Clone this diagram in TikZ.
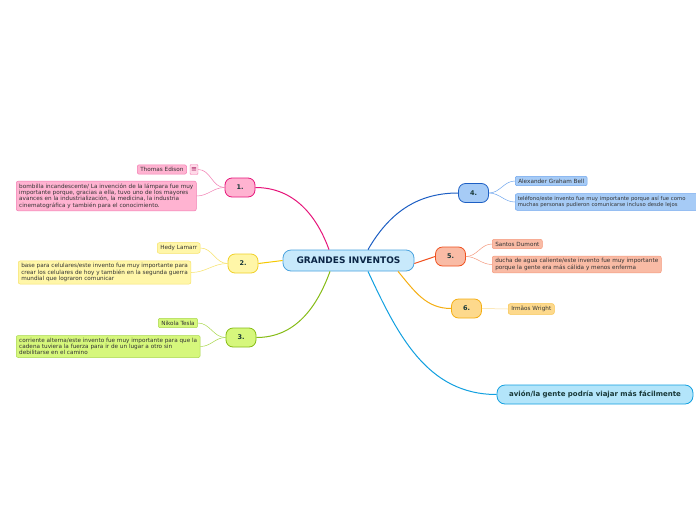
\documentclass[tikz,border=0pt]{standalone}
\usepackage{fontspec}
\setmainfont{DejaVu Sans}
\usepackage{tikz}
\usetikzlibrary{positioning}

\definecolor{mainfill}{HTML}{C8E9FB}
\definecolor{maindraw}{HTML}{4AA3DF}
\definecolor{pinkfill}{HTML}{FFB3D1}
\definecolor{pinkdraw}{HTML}{E6157A}
\definecolor{pinkleaf}{HTML}{F27DB2}
\definecolor{yelfill}{HTML}{FFF6A8}
\definecolor{yeldraw}{HTML}{F0D028}
\definecolor{yelline}{HTML}{F5C800}
\definecolor{yelleaf}{HTML}{F7E36A}
\definecolor{grnfill}{HTML}{D6F77C}
\definecolor{grndraw}{HTML}{86BC16}
\definecolor{grnleaf}{HTML}{A9D84C}
\definecolor{bluefill}{HTML}{A6CBF6}
\definecolor{bluedraw}{HTML}{1D5FC4}
\definecolor{blueleaf}{HTML}{6FA6EE}
\definecolor{salfill}{HTML}{F9BBA5}
\definecolor{saldraw}{HTML}{F0501E}
\definecolor{salleaf}{HTML}{F59A7E}
\definecolor{orfill}{HTML}{FDD98C}
\definecolor{ordraw}{HTML}{F5AE12}
\definecolor{orleaf}{HTML}{F7C44E}
\definecolor{avfill}{HTML}{B3E5FA}
\definecolor{avdraw}{HTML}{12A0E0}
\definecolor{titletext}{HTML}{0B2545}
\definecolor{numtext}{HTML}{183838}
\definecolor{leaftext}{HTML}{333333}

\begin{document}
\begin{tikzpicture}[x=1pt,y=-1pt,
  topic/.style={draw,line width=0.8pt,rounded corners=7pt,minimum width=30pt,minimum height=19pt,
    inner sep=0pt,font=\fontsize{6.5}{7}\selectfont\bfseries,text=numtext},
  leaf/.style={draw,line width=0.5pt,rounded corners=2pt,anchor=west,align=left,inner xsep=3pt,
    inner ysep=2.5pt,font=\fontsize{5.7}{6.3}\selectfont,text=leaftext},
  branch/.style={line width=1pt},
  twig/.style={line width=0.5pt}]
  \useasboundingbox (0,0) rectangle (696,520);
  \fill[white] (0,0) rectangle (696,520);

  % centre
  \node[draw=maindraw,fill=mainfill,line width=0.8pt,rounded corners=8pt,minimum width=131pt,
    minimum height=21pt,inner sep=0pt,font=\fontsize{9}{9}\selectfont\bfseries,text=titletext]
    (main) at (348.5,260.5) {GRANDES INVENTOS};

  % topics
  \node[topic,draw=pinkdraw,fill=pinkfill] (t1) at (240,187.5) {1.};
  \node[topic,draw=yeldraw,fill=yelfill] (t2) at (243,263.5) {2.};
  \node[topic,draw=grndraw,fill=grnfill] (t3) at (241,337.5) {3.};
  \node[topic,draw=bluedraw,fill=bluefill] (t4) at (473.5,193) {4.};
  \node[topic,draw=saldraw,fill=salfill] (t5) at (450.5,256.5) {5.};
  \node[topic,draw=ordraw,fill=orfill] (t6) at (466.5,308.5) {6.};
  \node[topic,draw=avdraw,fill=avfill,minimum width=196pt,rounded corners=8pt,
    font=\fontsize{7}{7}\selectfont\bfseries] (avion) at (595,394.5)
    {avión/la gente podría viajar más fácilmente};

  % leaves, left side
  \node[leaf,draw=pinkleaf,fill=pinkfill] (edison) at (137,169.5) {Thomas Edison};
  \node[draw=pinkleaf,fill=pinkfill!50,line width=0.4pt,rounded corners=1pt,inner sep=0pt,
    minimum width=8pt,minimum height=10pt,font=\fontsize{7}{7}\selectfont,text=pinkdraw!70!black]
    (menu) at (194,169.5) {≡};
  \node[leaf,draw=pinkleaf,fill=pinkfill] (bombilla) at (16,196) {bombilla incandescente/ La invención de la lámpara fue muy\\
    importante porque, gracias a ella, tuvo uno de los mayores\\avances en la industrialización, la medicina, la industria\\
    cinematográfica y también para el conocimiento.};
  \node[leaf,draw=yelleaf,fill=yelfill] (lamarr) at (157,248) {Hedy Lamarr};
  \node[leaf,draw=yelleaf,fill=yelfill] (base) at (18,272.5) {base para celulares/este invento fue muy importante para\\
    crear los celulares de hoy y también en la segunda guerra\\mundial que lograron comunicar};
  \node[leaf,draw=grnleaf,fill=grnfill] (tesla) at (158,323) {Nikola Tesla};
  \node[leaf,draw=grnleaf,fill=grnfill] (corriente) at (16,346.5) {corriente alterna/este invento fue muy importante para que la\\
    cadena tuviera la fuerza para ir de un lugar a otro sin\\debilitarse en el camino};

  % leaves, right side
  \node[leaf,draw=blueleaf,fill=bluefill] (bell) at (515,181) {Alexander Graham Bell};
  \node[leaf,draw=blueleaf,fill=bluefill,font=\fontsize{5.3}{6.3}\selectfont,inner xsep=2.5pt,
    text width=180pt] (telefono) at (515,202)
    {teléfono/este invento fue muy importante porque así fue como\\
    muchas personas pudieron comunicarse incluso desde lejos};
  \node[leaf,draw=salleaf,fill=salfill] (dumont) at (492,244) {Santos Dumont};
  \node[leaf,draw=salleaf,fill=salfill] (ducha) at (492,264.5) {ducha de agua caliente/este invento fue muy importante\\
    porque la gente era más cálida y menos enferma};
  \node[leaf,draw=orleaf,fill=orfill] (wright) at (508,309) {Irmãos Wright};

  % branches
  \draw[branch,pinkdraw] ([xshift=-19.5pt]main.north) to[out=110,in=0] (t1.east);
  \draw[branch,yelline] (main.west) -- (t2.east);
  \draw[branch,grndraw] ([xshift=-18.5pt]main.south) to[out=-110,in=0] (t3.east);
  \draw[branch,bluedraw] ([xshift=19.5pt]main.north) to[out=60,in=180] (t4.west);
  \draw[branch,saldraw] ([yshift=-3pt]main.east) -- (t5.west);
  \draw[branch,ordraw] ([xshift=49.5pt]main.south) to[out=-50,in=180] (t6.west);
  \draw[branch,avdraw] ([xshift=19.5pt]main.south) to[out=-65,in=180] (avion.west);

  % twigs
  \draw[twig,pinkleaf] (t1.west) to[out=180,in=0] (menu.east);
  \draw[twig,pinkleaf] (t1.west) to[out=180,in=0] (bombilla.east);
  \draw[twig,yelleaf] (t2.west) to[out=180,in=0] (lamarr.east);
  \draw[twig,yelleaf] (t2.west) to[out=180,in=0] (base.east);
  \draw[twig,grnleaf] (t3.west) to[out=180,in=0] (tesla.east);
  \draw[twig,grnleaf] (t3.west) to[out=180,in=0] (corriente.east);
  \draw[twig,blueleaf] (t4.east) to[out=0,in=180] (bell.west);
  \draw[twig,blueleaf] (t4.east) to[out=0,in=180] (telefono.west);
  \draw[twig,salleaf] (t5.east) to[out=0,in=180] (dumont.west);
  \draw[twig,salleaf] (t5.east) to[out=0,in=180] (ducha.west);
  \draw[twig,orleaf!60] (t6.east) -- (wright.west);
\end{tikzpicture}
\end{document}
